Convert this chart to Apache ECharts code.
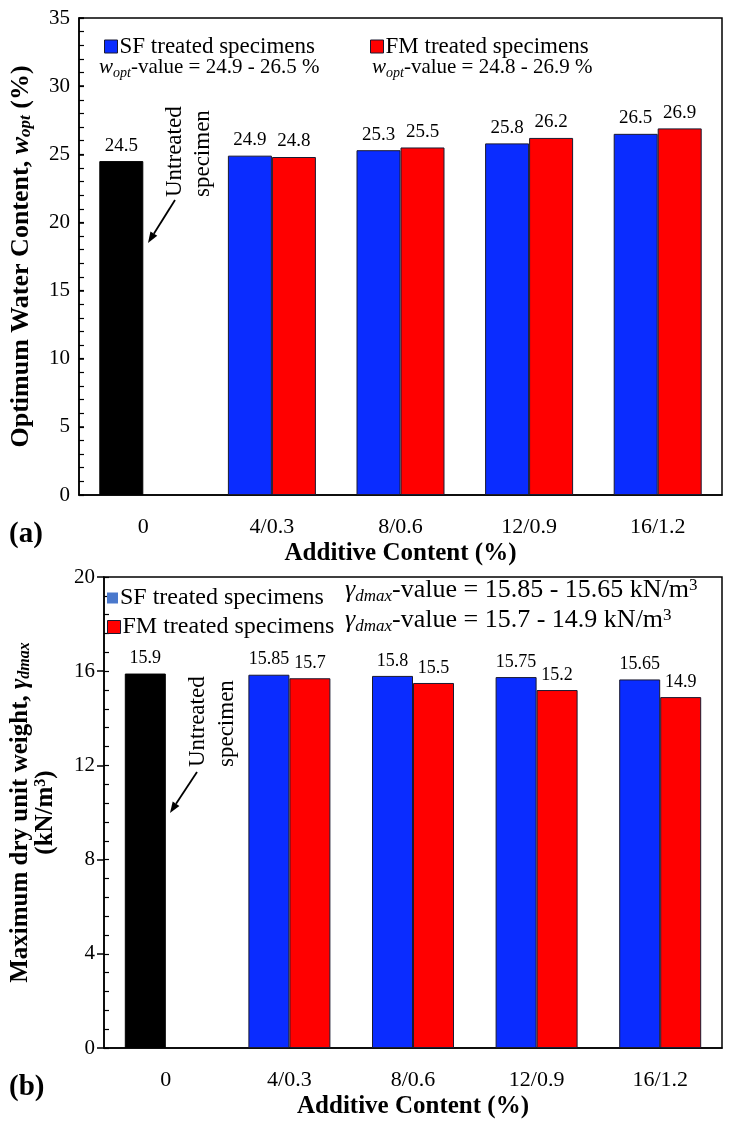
<!DOCTYPE html>
<html><head><meta charset="utf-8">
<script src="https://cdn.jsdelivr.net/npm/echarts@6/dist/echarts.min.js"></script>
<style>html,body{margin:0;padding:0;background:#fff}#c{width:729px;height:1122px}</style>
</head><body><div id="c"></div>
<script>
var categories = ['0', '4/0.3', '8/0.6', '12/0.9', '16/1.2'];
// (a) optimum water content (%) ; first value of SF list = untreated specimen
var woptSF = [24.5, 24.9, 25.3, 25.8, 26.5];
var woptFM = [null, 24.8, 25.5, 26.2, 26.9];
// (b) maximum dry unit weight (kN/m3)
var gdSF = [15.9, 15.85, 15.8, 15.75, 15.65];
var gdFM = [null, 15.7, 15.5, 15.2, 14.9];
var yTicksA = {min: 0, max: 35, interval: 5, minor: 1};
var yTicksB = {min: 0, max: 20, interval: 4, minor: 0.8};

var F = '"Liberation Serif", "Times New Roman", serif';
var BLUE = '#0a2cff', RED = '#ff0000', BLACK = '#000000';

function withUntreated(arr) {
  return arr.map(function (v, i) {
    return i === 0 ? {value: v, itemStyle: {color: BLACK, borderColor: BLACK}} : v;
  });
}
function arrow(x1, y1, x2, y2) {
  var dx = x2 - x1, dy = y2 - y1, L = Math.sqrt(dx * dx + dy * dy);
  var ux = dx / L, uy = dy / L, px = -uy, py = ux, h = 11, w = 4;
  var bx = x2 - ux * h, by = y2 - uy * h;
  return [
    {type: 'line', shape: {x1: x1, y1: y1, x2: bx, y2: by}, style: {stroke: '#000', lineWidth: 1.8}},
    {type: 'polygon', shape: {points: [[x2, y2], [bx + px * w, by + py * w], [bx - px * w, by - py * w]]}, style: {fill: '#000'}}
  ];
}
function richSet(size, sub) {
  return {
    n: {fontFamily: F, fontSize: size, color: '#000'},
    i: {fontFamily: F, fontSize: size, fontStyle: 'italic', color: '#000'},
    sub: {fontFamily: F, fontSize: sub, fontStyle: 'italic', color: '#000', padding: [Math.round(size * 0.5), 0, 0, 0]},
    sup: {fontFamily: F, fontSize: sub, color: '#000', padding: [0, 0, Math.round(size * 0.4), 0]}
  };
}
function nameRich(size, lh) {
  var s = Math.round(size * 0.65);
  return {
    b: {fontFamily: F, fontSize: size, fontWeight: 'bold', color: '#000', lineHeight: lh},
    bi: {fontFamily: F, fontSize: size, fontWeight: 'bold', fontStyle: 'italic', color: '#000', lineHeight: lh},
    bs: {fontFamily: F, fontSize: s, fontWeight: 'bold', fontStyle: 'italic', color: '#000', lineHeight: 4, verticalAlign: 'bottom'},
    bp: {fontFamily: F, fontSize: s, fontWeight: 'bold', color: '#000', lineHeight: 6, verticalAlign: 'top'}
  };
}
function valueAxis(grid, t, tickInside, tickLen, name, nameGap, nameSize, lh) {
  return {
    type: 'value', gridIndex: grid, min: t.min, max: t.max, interval: t.interval,
    name: name, nameLocation: 'middle', nameGap: nameGap, nameRotate: 90,
    nameTextStyle: {fontFamily: F, fontSize: nameSize, fontWeight: 'bold', color: '#000', lineHeight: lh,
      rich: nameRich(nameSize, lh)},
    axisLine: {show: true, lineStyle: {color: '#000', width: 1.5}},
    axisTick: {show: true, inside: tickInside, length: tickLen, lineStyle: {color: '#000', width: 1.5}},
    axisLabel: {fontFamily: F, fontSize: 21, color: '#000', margin: 9},
    splitLine: {show: false}
  };
}
function minorAxis(grid, t) {
  return {
    type: 'value', gridIndex: grid, min: t.min, max: t.max, interval: t.minor, position: 'left',
    axisLine: {show: false}, axisLabel: {show: false}, splitLine: {show: false},
    axisTick: {show: true, inside: true, length: 5, lineStyle: {color: '#000', width: 1.2}}
  };
}
function catAxis(grid, nameGap) {
  return {
    type: 'category', gridIndex: grid, data: categories,
    name: 'Additive Content (%)', nameLocation: 'middle', nameGap: nameGap,
    nameTextStyle: {fontFamily: F, fontSize: 25, fontWeight: 'bold', color: '#000'},
    axisLine: {show: true, lineStyle: {color: '#000', width: 1.5}},
    axisTick: {show: false},
    axisLabel: {fontFamily: F, fontSize: 22, color: '#000', margin: 21}
  };
}
function barSeries(name, data, color, xi, yi, bw, lblSize) {
  return {
    type: 'bar', name: name, data: data, xAxisIndex: xi, yAxisIndex: yi,
    barWidth: bw, barGap: '0%',
    itemStyle: {color: color, borderColor: '#1a1a30', borderWidth: 1},
    label: {show: true, position: 'top', distance: 6, fontFamily: F, fontSize: lblSize, color: '#000'}
  };
}
function legendOne(name, color, border, left, top, size, fs) {
  return {
    data: [{name: name, itemStyle: {color: color, borderColor: border ? '#1a1a30' : color, borderWidth: border ? 1 : 0}}],
    left: left, top: top, icon: 'rect', itemWidth: size, itemHeight: size, itemGap: 4, selectedMode: false,
    textStyle: {fontFamily: F, fontSize: fs, color: '#000', padding: [0, 0, 0, -3]}
  };
}

var chart = echarts.init(document.getElementById('c'), null, {renderer: 'canvas'});
var option = {
  animation: false,
  backgroundColor: '#fff',
  grid: [
    {left: 78, right: 7, top: 18, bottom: 1122 - 495, show: true, borderColor: '#000', borderWidth: 1.5, backgroundColor: 'transparent'},
    {left: 103, right: 7, top: 577, bottom: 1122 - 1048, show: true, borderColor: '#000', borderWidth: 1.5, backgroundColor: 'transparent'}
  ],
  legend: [
    legendOne('SF treated specimens', BLUE, true, 99, 30, 13, 23),
    legendOne('FM treated specimens', RED, true, 365, 30, 13, 23),
    legendOne('SF treated specimens', '#4a78cc', false, 102, 581, 11, 24),
    legendOne('FM treated specimens', RED, true, 102, 610, 13, 24)
  ],
  xAxis: [catAxis(0, 46), catAxis(1, 46)],
  yAxis: [
    valueAxis(0, yTicksA, true, 5, '{b|Optimum Water Content, }{bi|w}{bs|opt}{b| (%)}', 45, 26, 26),
    minorAxis(0, yTicksA),
    valueAxis(1, yTicksB, false, 7, '{b|Maximum dry unit weight, }{bi|γ}{bs|dmax}\n{b|(kN/m}{bp|3}{b|)}', 46, 25, 25),
    minorAxis(1, yTicksB)
  ],
  series: [
    barSeries('SF treated specimens', withUntreated(woptSF), BLUE, 0, 0, 44, 19),
    barSeries('FM treated specimens', woptFM, RED, 0, 0, 44, 19),
    barSeries('SF treated specimens', withUntreated(gdSF), BLUE, 1, 2, 41, 18),
    barSeries('FM treated specimens', gdFM, RED, 1, 2, 41, 18)
  ],
  graphic: [].concat(
    [
      {type: 'text', left: 99, top: 57, style: {text: '{i|w}{sub|opt}{n|-value = 24.9 - 26.5 %}', rich: richSet(21, 14)}},
      {type: 'text', left: 372, top: 57, style: {text: '{i|w}{sub|opt}{n|-value = 24.8 - 26.9 %}', rich: richSet(21, 14)}},
      {type: 'text', left: 345, top: 577, style: {text: '{i|γ}{sub|dmax}{n|-value = 15.85 - 15.65 kN/m}{sup|3}', rich: richSet(26, 17)}},
      {type: 'text', left: 345, top: 607, style: {text: '{i|γ}{sub|dmax}{n|-value = 15.7 - 14.9 kN/m}{sup|3}', rich: richSet(26, 17)}},
      {type: 'text', x: 161, y: 197, rotation: Math.PI / 2,
       style: {text: 'Untreated\nspecimen', font: '23px ' + F, fill: '#000', textAlign: 'left', textVerticalAlign: 'top', lineHeight: 28}},
      {type: 'text', x: 183, y: 767, rotation: Math.PI / 2,
       style: {text: 'Untreated\nspecimen', font: '23px ' + F, fill: '#000', textAlign: 'left', textVerticalAlign: 'top', lineHeight: 29}},
      {type: 'text', left: 9, top: 520, style: {text: '(a)', font: 'bold 29px ' + F, fill: '#000'}},
      {type: 'text', left: 9, top: 1073, style: {text: '(b)', font: 'bold 29px ' + F, fill: '#000'}}
    ],
    arrow(175, 200, 148, 243),
    arrow(197, 772, 170, 813)
  )
};
chart.setOption(option);
</script></body></html>
